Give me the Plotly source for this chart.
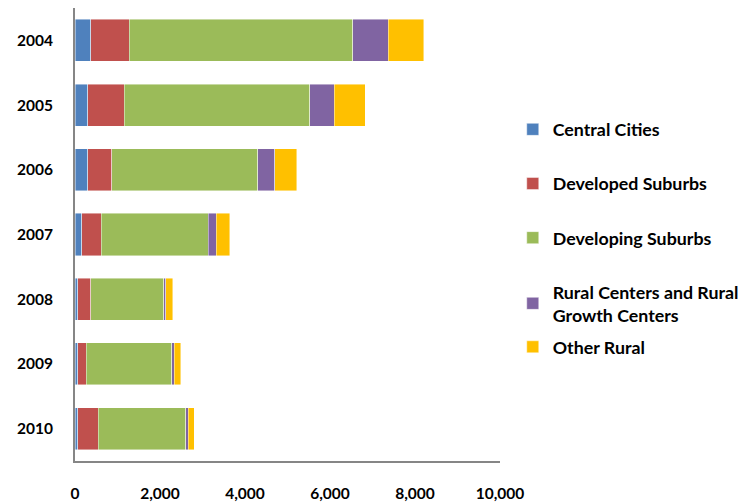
import plotly.graph_objects as go

years = ["2004", "2005", "2006", "2007", "2008", "2009", "2010"]

central_cities = [365, 300, 300, 160, 60, 60, 65]
developed_suburbs = [915, 862, 565, 455, 305, 210, 485]
developing_suburbs = [5260, 4364, 3440, 2520, 1720, 2005, 2050]
rural_centers = [835, 571, 390, 190, 50, 65, 65]
other_rural = [830, 729, 525, 320, 160, 150, 140]

series = [
    ("<b>Central Cities</b>", central_cities, "#4F81BD", "legend"),
    ("<b>Developed Suburbs</b>", developed_suburbs, "#C0504D", "legend"),
    ("<b>Developing Suburbs</b>", developing_suburbs, "#9BBB59", "legend"),
    ("<b>Rural Centers and Rural</b><br><b>Growth Centers</b>", rural_centers, "#8064A2", "legend"),
    ("<b>Other Rural</b>", other_rural, "#FFC000", "legend2"),
]

font_family = "Lato, 'Open Sans', sans-serif"
legend_font = dict(family=font_family, size=17.8, color="black")
tick_font = dict(family=font_family, size=15.5, color="black", weight="bold")

fig = go.Figure()
for i, (name, vals, color, leg) in enumerate(series):
    fig.add_trace(go.Bar(
        y=years,
        x=vals,
        name=name,
        orientation="h",
        marker=dict(color=color, line=dict(color="rgba(255,255,255,0.55)", width=0.8)),
        legendgroup=f"g{i}",
        legend=leg,
    ))

fig.update_layout(
    barmode="stack",
    bargap=0.35,
    width=754,
    height=504,
    margin=dict(l=75, r=254, t=8, b=43, autoexpand=False),
    plot_bgcolor="white",
    paper_bgcolor="white",
    font=dict(family=font_family, size=15, color="black"),
    showlegend=True,
    legend=dict(
        x=1.030, xanchor="left",
        y=0.772, yanchor="top",
        tracegroupgap=28,
        font=legend_font,
        bgcolor="rgba(0,0,0,0)",
    ),
    legend2=dict(
        x=1.030, xanchor="left",
        y=0.292, yanchor="top",
        font=legend_font,
        bgcolor="rgba(0,0,0,0)",
    ),
    xaxis=dict(
        range=[0, 10000],
        dtick=2000,
        tickformat=",d",
        showgrid=False,
        zeroline=False,
        showline=True,
        linecolor="#868686",
        linewidth=2,
        ticks="",
        automargin=False,
        ticklabelstandoff=17,
        tickfont=tick_font,
    ),
    yaxis=dict(
        autorange="reversed",
        showgrid=False,
        zeroline=False,
        showline=True,
        linecolor="#868686",
        linewidth=2,
        ticks="",
        automargin=False,
        ticklabelstandoff=17,
        tickfont=tick_font,
    ),
)

fig.write_html("out.html")
